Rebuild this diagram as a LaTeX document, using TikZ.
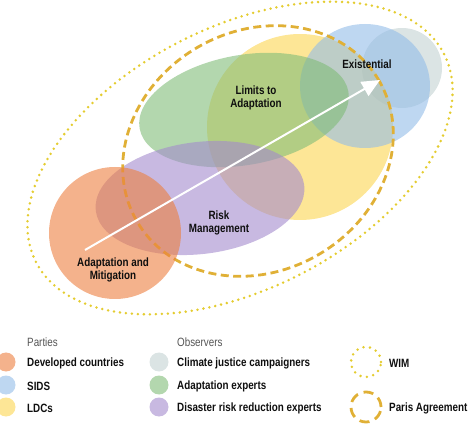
\documentclass[tikz,border=0pt]{standalone}
\usepackage{fontspec}
\setmainfont{Liberation Sans}[FakeStretch=0.82]
\usetikzlibrary{arrows.meta}
\definecolor{cOrange}{RGB}{237,127,63}
\definecolor{cPurple}{RGB}{163,138,205}
\definecolor{cGreen}{RGB}{128,188,120}
\definecolor{cYellow}{RGB}{252,213,80}
\definecolor{cBlue}{RGB}{147,188,232}
\definecolor{cGrey}{RGB}{195,210,210}
\definecolor{cDot}{RGB}{228,204,48}
\definecolor{cDash}{RGB}{224,176,54}
\definecolor{cText}{RGB}{15,15,15}
\definecolor{cHead}{RGB}{85,85,85}
\begin{document}
\begin{tikzpicture}[x=1pt,y=1pt,
  blob/.style={fill opacity=0.6},
  lab/.style={font=\bfseries\fontsize{12}{12.5}\selectfont, align=center, text=cText, inner sep=0pt},
  legtxt/.style={font=\bfseries\fontsize{12}{12.5}\selectfont, anchor=west, text=cText, inner sep=0pt},
  leghead/.style={font=\fontsize{12}{12.5}\selectfont, anchor=west, text=cHead, inner sep=0pt},
  legdot/.style={circle, minimum size=19pt, inner sep=0pt, fill opacity=0.6},
  wimline/.style={draw=cDot, line width=2.8pt, line cap=round, dash pattern=on 0pt off 6pt},
  parisline/.style={draw=cDash, line width=2.8pt, dash pattern=on 8pt off 4.5pt},
  legwim/.style={circle, minimum size=30pt, inner sep=0pt, draw=cDot, line width=2.8pt, line cap=round, dash pattern=on 0pt off 6.5pt},
  legparis/.style={circle, minimum size=30pt, inner sep=0pt, draw=cDash, line width=2.8pt, dash pattern=on 10pt off 6pt}]
\useasboundingbox (0,0) rectangle (474,-430);
% shapes
\fill[cGrey, blob] (402,-68) circle [radius=40];
\fill[cYellow, blob] (300,-127) circle [radius=93];
\fill[cBlue, blob] (365,-86) ellipse [x radius=65, y radius=62];
\fill[cGreen, blob, shift={(244,-110)}, rotate=10] (0,0) ellipse [x radius=106, y radius=55];
\fill[cPurple, blob, shift={(200,-198)}, rotate=7] (0,0) ellipse [x radius=105, y radius=56];
\draw[parisline, shift={(258,-151)}, rotate=30] (0,0) ellipse [x radius=140, y radius=120];
\fill[cOrange, blob] (115,-233) circle [radius=66];
\draw[wimline, shift={(240,-158)}, rotate=27] (0,0) ellipse [x radius=229, y radius=131];
% arrow
\coordinate (arrS) at (85,-250);
\coordinate (arrE) at (380,-80);
\draw[white, line width=2pt, -{Triangle[length=18pt,width=16pt]}] (arrS) -- (arrE);
% labels
\node[lab] (limits) at (256,-98) {Limits to\\Adaptation};
\node[lab] (exist) at (367,-64) {Existential};
\node[lab] (risk) at (219,-223) {Risk\\Management};
\node[lab] (adapt) at (113,-270) {Adaptation and\\Mitigation};
% legend
\node[leghead] (parties) at (27,-342) {Parties};
\node[leghead] (observers) at (177,-342) {Observers};
\node[legdot, fill=cOrange] (dDev) at (6,-362) {};
\node[legdot, fill=cBlue] (dSids) at (6,-385) {};
\node[legdot, fill=cYellow] (dLdc) at (6,-407) {};
\node[legtxt] (tDev) at (27,-363) {Developed countries};
\node[legtxt] (tSids) at (27,-386) {SIDS};
\node[legtxt] (tLdc) at (27,-408) {LDCs};
\node[legdot, fill=cGrey] (dCj) at (159,-362) {};
\node[legdot, fill=cGreen] (dAe) at (159,-385) {};
\node[legdot, fill=cPurple] (dDrr) at (159,-407) {};
\node[legtxt] (tCj) at (177,-363) {Climate justice campaigners};
\node[legtxt] (tAe) at (177,-386) {Adaptation experts};
\node[legtxt] (tDrr) at (177,-408) {Disaster risk reduction experts};
\node[legwim] (cWim) at (366,-362) {};
\node[legparis] (cParis) at (366,-407) {};
\node[legtxt] (tWim) at (389,-363) {WIM};
\node[legtxt] (tParis) at (389,-408) {Paris Agreement};
\end{tikzpicture}
\end{document}
